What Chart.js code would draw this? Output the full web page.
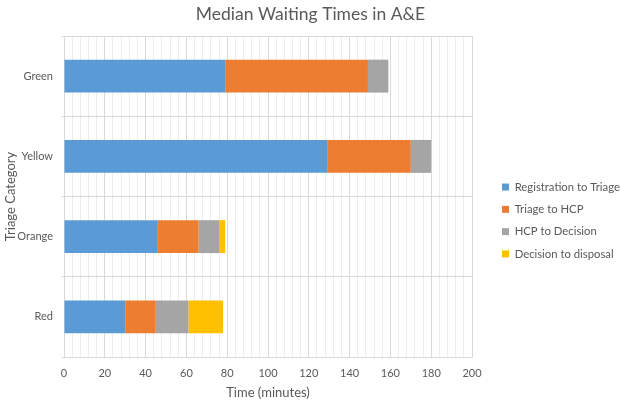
<!DOCTYPE html>
<html lang="en">
<head>
    <meta charset="UTF-8">
    <title>Median Waiting Times in A&amp;E</title>
    <style>
        html, body {
            margin: 0;
            padding: 0;
            background: #ffffff;
        }
        #wrap {
            width: 621px;
            height: 401px;
        }
    </style>
    <script src="https://cdn.jsdelivr.net/npm/chart.js"></script>
</head>
<body>
    <div id="wrap"><canvas id="waitChart" width="621" height="401"></canvas></div>

    <script>
        // Triage categories, top to bottom
        let categories = ['Green', 'Yellow', 'Orange', 'Red'];

        // Minutes spent in each stage, per category
        let regToTriage = [79, 129, 46, 30];
        let triageToHcp = [70, 41, 20, 15];
        let hcpToDecision = [10, 10, 10, 16];
        let decisionToDisposal = [0, 0, 3, 17];

        let seriesNames = ['Registration to Triage', 'Triage to HCP', 'HCP to Decision', 'Decision to disposal'];
        let seriesColors = ['#5B9BD5', '#ED7D31', '#A5A5A5', '#FFC000'];
        let seriesValues = [regToTriage, triageToHcp, hcpToDecision, decisionToDisposal];

        let textColor = '#595959';
        let font = 'Lato, "Open Sans", sans-serif';

        let datasets = seriesValues.map((vals, i) => ({
            label: seriesNames[i],
            data: vals,
            backgroundColor: seriesColors[i],
            borderWidth: 0,
            barPercentage: 0.41,
            categoryPercentage: 1.0
        }));

        // Legend sits a bit right of and below where Chart.js would centre it
        let legendPlace = {
            id: 'legendPlace',
            beforeInit(chart) {
                let legend = chart.legend;
                let origFit = legend.fit;
                legend.fit = function () {
                    origFit.call(this);
                    this.width = 149;
                };
            },
            afterLayout(chart) {
                let legend = chart.legend;
                legend.left += 19;
                legend.right += 19;
                legend.top += 18;
                legend.bottom += 18;
            }
        };

        let ctx = document.getElementById('waitChart').getContext('2d');
        let waitChart = new Chart(ctx, {
            type: 'bar',
            data: {
                labels: categories,
                datasets: datasets
            },
            plugins: [legendPlace],
            options: {
                indexAxis: 'y',
                responsive: false,
                animation: false,
                layout: {
                    padding: { top: 4, right: 0, bottom: 0, left: 0 }
                },
                plugins: {
                    title: {
                        display: true,
                        text: 'Median Waiting Times in A&E',
                        color: textColor,
                        font: { family: font, size: 17.5, weight: 'normal' },
                        padding: { top: 0, bottom: 11 }
                    },
                    legend: {
                        position: 'right',
                        align: 'center',
                        labels: {
                            color: textColor,
                            font: { family: font, size: 11.3 },
                            boxWidth: 7,
                            boxHeight: 7,
                            padding: 11
                        }
                    },
                    tooltip: { enabled: false }
                },
                scales: {
                    x: {
                        stacked: true,
                        min: 0,
                        max: 200,
                        afterFit: function (scale) {
                            scale.height = 44;
                        },
                        ticks: {
                            stepSize: 4,
                            autoSkip: false,
                            maxRotation: 0,
                            color: textColor,
                            font: { family: font, size: 11 },
                            padding: 10,
                            callback: function (value) {
                                return value % 20 === 0 ? value : '';
                            }
                        },
                        grid: {
                            drawTicks: false,
                            color: function (c) {
                                return c.tick && c.tick.value % 20 === 0 ? '#d9d9d9' : '#ececec';
                            }
                        },
                        border: { color: '#d9d9d9' },
                        title: {
                            display: true,
                            text: 'Time (minutes)',
                            color: textColor,
                            font: { family: font, size: 13 },
                            padding: { top: 5, bottom: 0 }
                        }
                    },
                    y: {
                        stacked: true,
                        afterFit: function (scale) {
                            scale.width = 64;
                        },
                        ticks: {
                            color: textColor,
                            font: { family: font, size: 11 },
                            padding: 9
                        },
                        grid: {
                            color: '#d9d9d9',
                            tickLength: 2
                        },
                        border: { color: '#d9d9d9' },
                        title: {
                            display: true,
                            text: 'Triage Category',
                            color: textColor,
                            font: { family: font, size: 13 },
                            padding: { top: 3, bottom: 0 }
                        }
                    }
                }
            }
        });
    </script>
</body>
</html>
